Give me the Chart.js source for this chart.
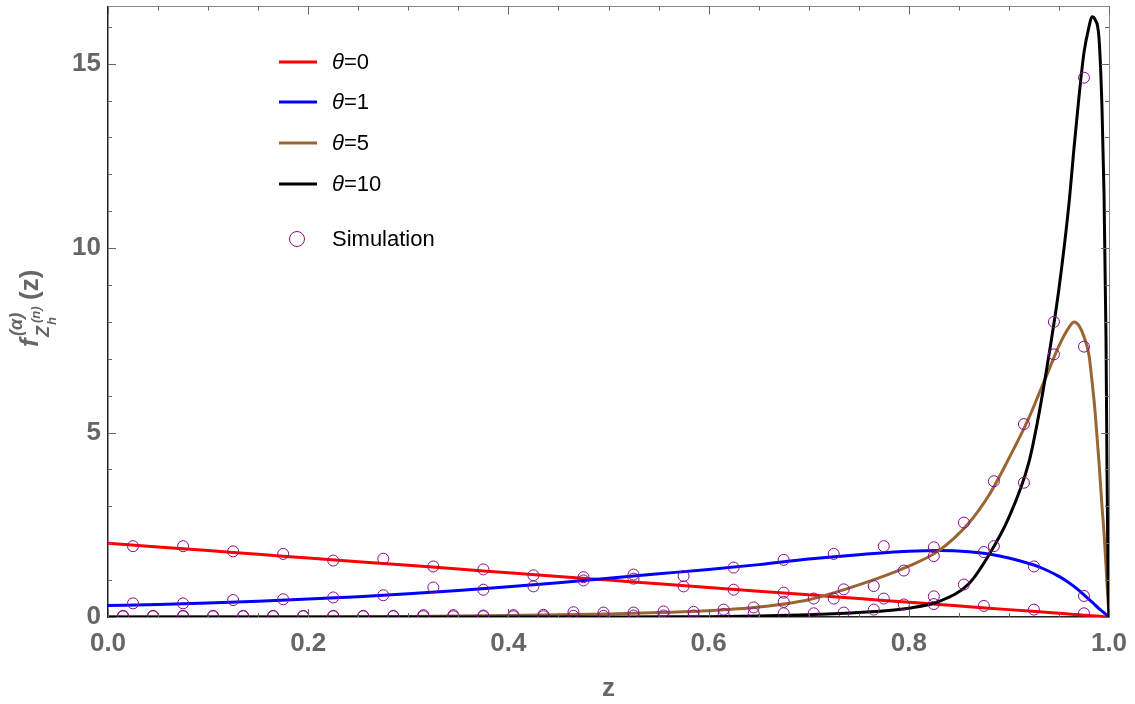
<!DOCTYPE html>
<html>
<head>
<meta charset="utf-8">
<script src="https://cdn.jsdelivr.net/npm/chart.js@4.4.1/dist/chart.umd.min.js"></script>
<style>
  html, body { margin: 0; padding: 0; background: #fff; }
  canvas { display: block; }
</style>
</head>
<body>
<canvas id="grafico" width="1135" height="704"></canvas>
<script>
// curve grid (z) and the four theoretical densities
const zGrid = [0, 0.05, 0.1, 0.15, 0.2, 0.25, 0.3, 0.35, 0.4, 0.45, 0.5, 0.55, 0.6, 0.65, 0.7, 0.75, 0.8, 0.83, 0.86, 0.88, 0.9, 0.92, 0.93, 0.94, 0.95, 0.96, 0.965, 0.97, 0.975, 0.98, 0.983, 0.986, 0.99, 0.993, 0.995, 0.997, 0.998, 0.999, 1.0];
const theta0 = [2.0, 1.9, 1.8, 1.7, 1.6, 1.5, 1.4, 1.3, 1.2, 1.1, 1.0, 0.9, 0.8, 0.7, 0.6, 0.5, 0.4, 0.34, 0.28, 0.24, 0.2, 0.16, 0.14, 0.12, 0.1, 0.08, 0.07, 0.06, 0.05, 0.04, 0.034, 0.028, 0.02, 0.014, 0.01, 0.006, 0.004, 0.002, 0];
const theta1 = [0.31, 0.34, 0.38, 0.43, 0.49, 0.55, 0.63, 0.72, 0.82, 0.93, 1.05, 1.17, 1.29, 1.42, 1.57, 1.69, 1.78, 1.80, 1.77, 1.71, 1.60, 1.45, 1.36, 1.24, 1.10, 0.93, 0.83, 0.72, 0.60, 0.48, 0.41, 0.33, 0.23, 0.16, 0.115, 0.07, 0.045, 0.023, 0];
const theta5 = [0, 0, 0, 0.001, 0.003, 0.007, 0.014, 0.025, 0.04, 0.06, 0.08, 0.12, 0.17, 0.27, 0.47, 0.87, 1.38, 1.8, 2.55, 3.3, 4.3, 5.4, 6.05, 6.7, 7.35, 7.85, 8.0, 7.9, 7.6, 7.1, 6.4, 5.6, 4.2, 3.0, 2.3, 1.4, 0.9, 0.45, 0];
const theta10 = [0, 0, 0, 0, 0, 0, 0, 0, 0, 0, 0.002, 0.005, 0.01, 0.025, 0.06, 0.12, 0.24, 0.42, 0.9, 1.68, 2.7, 4.2, 5.5, 7.1, 8.9, 11.2, 12.7, 14.1, 15.3, 16.0, 16.27, 16.2, 15.7, 13.8, 11.5, 7.6, 4.0, 1.2, 0];

// simulation points
const simZa = [0.025, 0.075, 0.125, 0.175, 0.225, 0.275, 0.325, 0.375, 0.425, 0.475, 0.525, 0.575, 0.625, 0.675, 0.725, 0.775, 0.825, 0.875, 0.925, 0.975];
const simTheta0 = [1.92, 1.92, 1.78, 1.71, 1.53, 1.58, 1.37, 1.29, 1.13, 1.08, 1.04, 0.83, 0.74, 0.66, 0.50, 0.50, 0.35, 0.30, 0.20, 0.10];
const simTheta1 = [0.37, 0.37, 0.46, 0.48, 0.53, 0.59, 0.80, 0.74, 0.83, 0.99, 1.15, 1.11, 1.34, 1.55, 1.71, 1.92, 1.89, 1.76, 1.37, 0.57];
const simZb = [0.015, 0.045, 0.075, 0.105, 0.135, 0.165, 0.195, 0.225, 0.255, 0.285, 0.315, 0.345, 0.375, 0.405, 0.435, 0.465, 0.495, 0.525, 0.555, 0.585, 0.615, 0.645, 0.675, 0.705, 0.735, 0.765, 0.795, 0.825, 0.855, 0.885, 0.915, 0.945, 0.975];
const simTheta5 = [0.03, 0.03, 0.03, 0.03, 0.03, 0.03, 0.03, 0.03, 0.03, 0.03, 0.05, 0.05, 0.04, 0.05, 0.06, 0.13, 0.12, 0.12, 0.15, 0.14, 0.2, 0.26, 0.41, 0.5, 0.75, 0.84, 1.26, 1.65, 2.56, 3.68, 5.23, 7.12, 7.33];
const simTheta10 = [0.02, 0.02, 0.02, 0.02, 0.02, 0.02, 0.02, 0.02, 0.02, 0.02, 0.02, 0.02, 0.02, 0.02, 0.02, 0.03, 0.03, 0.04, 0.04, 0.04, 0.08, 0.1, 0.1, 0.1, 0.12, 0.2, 0.34, 0.56, 0.88, 1.92, 3.64, 8.0, 14.62];

const seriesLabels = ["0", "1", "5", "10"];
const seriesColors = ["#ff0000", "#0000ff", "#996633", "#000000"];
const simColor = "#8b0a8b";

const FONT = "'Liberation Sans', Arial, sans-serif";
const Y_MAX = 16.55;

function pares(xs, ys) {
  return xs.map((x, i) => ({ x: x, y: ys[i] }));
}

const curvas = [theta0, theta1, theta5, theta10];
const datasets = curvas.map((ys, i) => ({
  label: "θ=" + seriesLabels[i],
  data: pares(zGrid, ys),
  borderColor: seriesColors[i],
  borderWidth: 3,
  pointRadius: 0,
  fill: false,
  cubicInterpolationMode: "monotone",
  order: 4 - i,
}));

datasets.push({
  type: "scatter",
  label: "Simulation",
  data: pares(simZa, simTheta0)
    .concat(pares(simZa, simTheta1))
    .concat(pares(simZb, simTheta5))
    .concat(pares(simZb, simTheta10)),
  showLine: false,
  pointStyle: "circle",
  pointRadius: 5.5,
  pointBorderWidth: 1,
  borderColor: simColor,
  backgroundColor: "rgba(0,0,0,0)",
  pointBackgroundColor: "rgba(0,0,0,0)",
  pointBorderColor: simColor,
  clip: 0,
  order: 0,
});

// ticks pointing inward on all four sides of the frame
const marcasMoldura = {
  id: "marcasMoldura",
  afterDraw(chart) {
    const ctx = chart.ctx;
    const a = chart.chartArea;
    const sx = chart.scales.x;
    const sy = chart.scales.y;
    ctx.save();
    ctx.strokeStyle = "#666";
    ctx.lineWidth = 1;
    ctx.beginPath();
    for (let k = 0; k <= 20; k++) {
      const v = k * 0.05;
      const px = Math.round(sx.getPixelForValue(v)) + 0.5;
      const len = k % 4 === 0 ? 8 : 4;
      ctx.moveTo(px, a.bottom);
      ctx.lineTo(px, a.bottom - len);
      ctx.moveTo(px, a.top);
      ctx.lineTo(px, a.top + len);
    }
    for (let k = 0; k <= Math.floor(Y_MAX); k++) {
      const py = Math.round(sy.getPixelForValue(k)) + 0.5;
      const len = k % 5 === 0 ? 8 : 4;
      ctx.moveTo(a.left, py);
      ctx.lineTo(a.left + len, py);
      ctx.moveTo(a.right, py);
      ctx.lineTo(a.right - len, py);
    }
    ctx.stroke();
    ctx.restore();
  },
};

// rotated y title: f^(α)_{Z_h^(n)}(z)
const tituloY = {
  id: "tituloY",
  afterDraw(chart) {
    const ctx = chart.ctx;
    ctx.save();
    ctx.translate(38, 347);
    ctx.rotate(-Math.PI / 2);
    ctx.fillStyle = "#666";
    ctx.textBaseline = "alphabetic";
    ctx.textAlign = "left";
    ctx.font = "italic bold 26px " + FONT;
    ctx.fillText("f", 0, 0);
    ctx.font = "italic bold 18px " + FONT;
    ctx.fillText("(α)", 11, -16);
    ctx.fillText("Z", 10, 11);
    ctx.font = "italic bold 13px " + FONT;
    ctx.fillText("(n)", 24, 2);
    ctx.fillText("h", 22, 18);
    ctx.font = "bold 26px " + FONT;
    ctx.fillText("(z)", 47, 0);
    ctx.restore();
  },
};

// legend drawn inside the plot area
const legendaInterna = {
  id: "legendaInterna",
  afterDatasetsDraw(chart) {
    const ctx = chart.ctx;
    const linhas = [62, 102, 143, 184];
    ctx.save();
    ctx.textBaseline = "middle";
    ctx.textAlign = "left";
    ctx.fillStyle = "#000";
    linhas.forEach((y, i) => {
      const ds = chart.data.datasets[i];
      ctx.strokeStyle = ds.borderColor;
      ctx.lineWidth = 3;
      ctx.beginPath();
      ctx.moveTo(279, y);
      ctx.lineTo(317, y);
      ctx.stroke();
      ctx.font = "italic 22px " + FONT;
      ctx.fillText("θ", 332, y + 1);
      const w = ctx.measureText("θ").width;
      ctx.font = "22px " + FONT;
      ctx.fillText("=" + seriesLabels[i], 332 + w, y + 1);
    });
    const sim = chart.data.datasets[4];
    ctx.strokeStyle = sim.borderColor;
    ctx.lineWidth = 1;
    ctx.beginPath();
    ctx.arc(297, 239, 7.5, 0, Math.PI * 2);
    ctx.stroke();
    ctx.font = "22px " + FONT;
    ctx.fillText(sim.label, 332, 240);
    ctx.restore();
  },
};

const fonteTicks = { family: FONT, size: 26, weight: "bold" };

function semPadding(s) {
  s.paddingTop = 0;
  s.paddingBottom = 0;
  s.paddingLeft = 0;
  s.paddingRight = 0;
}

new Chart(document.getElementById("grafico").getContext("2d"), {
  type: "line",
  data: { datasets: datasets },
  options: {
    responsive: false,
    animation: false,
    layout: { padding: { top: -6, left: 0, right: 0, bottom: 0 } },
    plugins: { legend: { display: false }, tooltip: { enabled: false } },
    scales: {
      x: {
        type: "linear",
        position: "bottom",
        min: 0,
        max: 1,
        afterFit(s) { s.height = 87; semPadding(s); },
        ticks: {
          stepSize: 0.2,
          callback: (v) => v.toFixed(1),
          font: fonteTicks,
          color: "#666",
          padding: 11,
          maxRotation: 0,
          autoSkip: false,
        },
        grid: { display: false, drawTicks: false },
        border: { display: true, color: "#222", width: 1.5 },
        title: {
          display: true,
          text: "z",
          font: fonteTicks,
          color: "#666",
          padding: { top: 0, bottom: 0 },
        },
      },
      y: {
        type: "linear",
        position: "left",
        min: 0,
        max: Y_MAX,
        afterFit(s) { s.width = 108; semPadding(s); },
        afterBuildTicks(s) { s.ticks = s.ticks.filter((t) => t.value % 5 === 0); },
        ticks: {
          stepSize: 5,
          font: fonteTicks,
          color: "#666",
          padding: 7,
        },
        grid: { display: false, drawTicks: false },
        border: { display: true, color: "#222", width: 1.5 },
      },
      x2: {
        type: "linear",
        position: "top",
        min: 0,
        max: 1,
        afterFit(s) { s.height = 1; semPadding(s); },
        ticks: { display: false },
        grid: { display: false, drawTicks: false },
        border: { display: true, color: "#888", width: 1 },
      },
      y2: {
        type: "linear",
        position: "right",
        min: 0,
        max: Y_MAX,
        afterFit(s) { s.width = 26; semPadding(s); },
        ticks: { display: false },
        grid: { display: false, drawTicks: false },
        border: { display: true, color: "#888", width: 1 },
      },
    },
  },
  plugins: [marcasMoldura, tituloY, legendaInterna],
});
</script>
</body>
</html>
